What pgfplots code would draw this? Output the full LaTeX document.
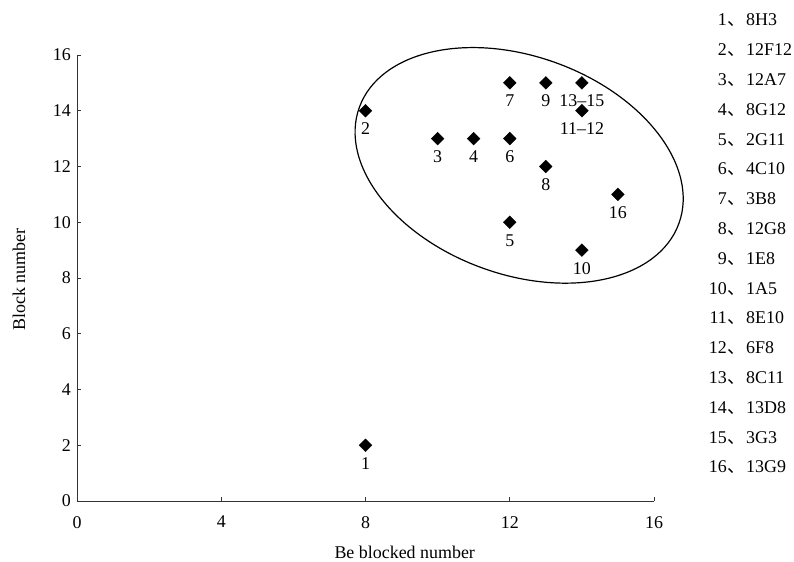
\documentclass[border=0pt]{standalone}
\usepackage{pgfplots}
\usepackage{pgfplotstable}
\pgfplotsset{compat=1.18}
\usepackage{fontspec}
\setmainfont{Liberation Serif}
\newfontfamily\cjk{Noto Sans CJK SC}
\pgfplotstableread{
x y label
8 2 1
8 14 2
10 13 3
11 13 4
12 10 5
12 13 6
12 15 7
13 12 8
13 15 9
14 9 10
14 14 11--12
14 15 13--15
15 11 16
}\pts
\begin{document}
\fontsize{18}{21}\selectfont
\begin{tikzpicture}[x=1bp,y=1bp]
\useasboundingbox (0,0) rectangle (794,562);
\begin{axis}[
  at={(77bp,61bp)}, anchor=south west, scale only axis,
  width=577bp, height=446bp,
  xmin=0,xmax=16,ymin=0,ymax=16,
  axis x line=bottom, axis y line=left,
  axis line style={-, line width=0.8bp, black!80},
  xtick={0,4,...,16}, ytick={0,2,...,16},
  tick align=inside, major tick length=4bp,
  tick style={black!80, line width=0.8bp},
  /pgf/number format/assume math mode=true,
  ticklabel style={font=\fontsize{18}{21}\selectfont},
  xticklabel style={yshift=-9bp},
  xlabel={Be blocked number}, ylabel={Block number},
  label style={font=\fontsize{18}{21}\selectfont},
  xlabel style={at={(axis description cs:0.568,-0.116)}, anchor=center},
  ylabel style={at={(axis description cs:-0.1005,0.496)}, anchor=center},
  clip=false,
]
\addplot[only marks, mark=square*, mark size=4.5bp, mark options={rotate=45, fill=black, draw=black},
  nodes near coords, point meta=explicit symbolic,
  nodes near coords align={anchor=north},
  every node near coord/.append style={font=\fontsize{18}{21}\selectfont, inner sep=1bp, yshift=-11bp}]
  table[x=x, y=y, meta=label] {\pts};
\draw[line width=1.2bp, rotate around={-20:(axis cs:12.26,12.04)}] (axis cs:12.26,12.04) ellipse [x radius=170bp, y radius=109bp];
\end{axis}
\foreach \n/\c [count=\i] in {1/8H3, 2/12F12, 3/12A7, 4/8G12, 5/2G11, 6/4C10, 7/3B8, 8/12G8, 9/1E8, 10/1A5, 11/8E10, 12/6F8, 13/8C11, 14/13D8, 15/3G3, 16/13G9} {
  \node[anchor=base east, inner sep=0] at (727, {562-26-29.8*(\i-1)}) {\n};
  \node[anchor=base west, inner sep=0] at (727, {562-26-29.8*(\i-1)}) {{\cjk 、}\hspace{1bp}\c};
}
\end{tikzpicture}
\end{document}
